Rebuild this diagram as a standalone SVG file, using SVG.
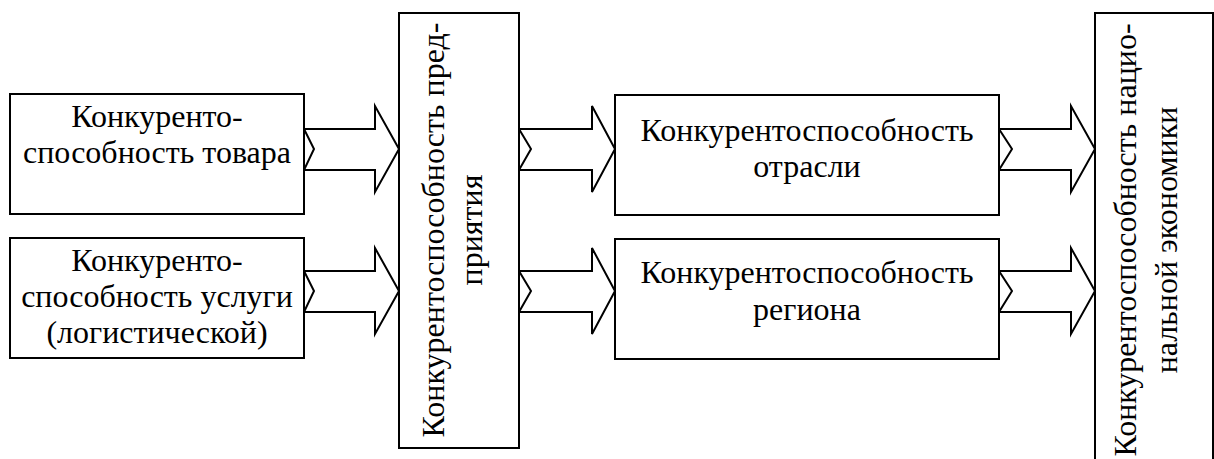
<svg xmlns="http://www.w3.org/2000/svg" width="1214" height="459" viewBox="0 0 1214 459">
<style>
.box{fill:#fff;stroke:#000;stroke-width:2}
.arr{fill:#fff;stroke:#000;stroke-width:2;stroke-linejoin:miter}
</style>
<rect width="1214" height="459" fill="#fff"/>
<g id="connectors">
<polygon class="arr" points="304,129 375,129 375,106 399,149 375,192 375,170 304,170 314,149"/>
<polygon class="arr" points="304,271 375,271 375,248 399,291 375,334 375,312 304,312 314,291"/>
<polygon class="arr" points="519,129 592,129 592,106 615,149 592,192 592,170 519,170 531,149"/>
<polygon class="arr" points="519,271 592,271 592,248 615,291 592,334 592,312 519,312 531,291"/>
<polygon class="arr" points="999,129 1071,129 1071,106 1095,149 1071,192 1071,170 999,170 1012,149"/>
<polygon class="arr" points="999,271 1071,271 1071,248 1095,291 1071,334 1071,312 999,312 1012,291"/>
</g>
<g font-family="Liberation Serif, serif" font-size="32" fill="#000" text-anchor="middle">
<g id="node-tovar">
<rect class="box" x="10" y="94" width="294" height="120"/>
<text x="157" y="127">Конкуренто-</text>
<text x="157" y="163">способность товара</text>
</g>
<g id="node-usluga">
<rect class="box" x="10" y="238" width="294" height="120"/>
<text x="157" y="271">Конкуренто-</text>
<text x="157" y="307">способность услуги</text>
<text x="157" y="343">(логистической)</text>
</g>
<g id="node-predpriyatie">
<rect class="box" x="399" y="13" width="120" height="435"/>
<text transform="translate(444,230) rotate(-90)">Конкурентоспособность пред-</text>
<text transform="translate(482,230) rotate(-90)">приятия</text>
</g>
<g id="node-otrasl">
<rect class="box" x="615" y="95" width="384" height="120"/>
<text x="807" y="141">Конкурентоспособность</text>
<text x="807" y="177">отрасли</text>
</g>
<g id="node-region">
<rect class="box" x="615" y="239" width="384" height="120"/>
<text x="807" y="283">Конкурентоспособность</text>
<text x="807" y="320">региона</text>
</g>
<g id="node-nacionalnaya">
<rect class="box" x="1095" y="13" width="118" height="460"/>
<text transform="translate(1136,240) rotate(-90)">Конкурентоспособность нацио-</text>
<text transform="translate(1177,240) rotate(-90)">нальной экономики</text>
</g>
</g>
</svg>
